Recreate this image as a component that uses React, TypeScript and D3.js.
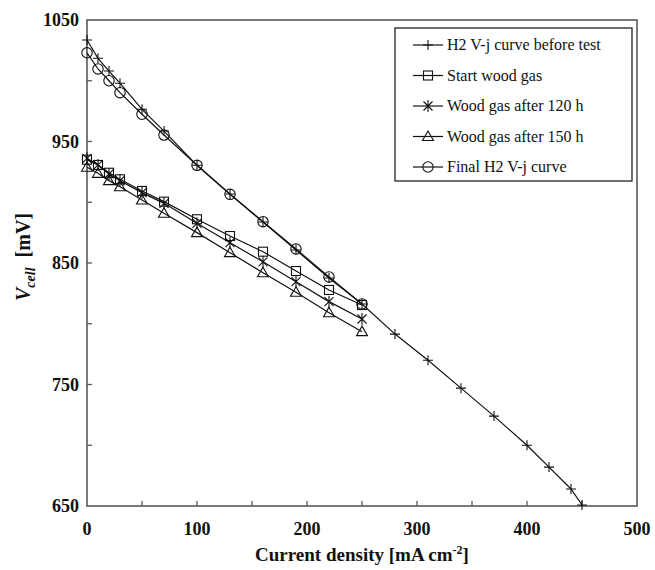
import React from 'react';
import * as d3 from 'd3';

// current density [mA cm-2]
const jH2 = [0, 10, 20, 30, 50, 70, 100, 130, 160, 190, 220, 250, 280, 310, 340, 370, 400, 420, 440, 450];
const jWood = [0, 10, 20, 30, 50, 70, 100, 130, 160, 190, 220, 250];

// cell voltage [mV]
const h2Before = [1033.5, 1018.5, 1008, 998, 976.5, 958.6, 930.4, 906.8, 883.7, 860.7, 837.7, 816.3, 791.5, 770, 747, 724, 700, 682, 664, 650.8];
const startWood = [935, 930.7, 924.3, 918.9, 909.3, 900.5, 886, 872.2, 859.3, 843.4, 827.8, 815.4];
const wood120 = [936.2, 930.7, 923.3, 917.7, 907.9, 899.1, 882.7, 866.7, 851, 834.6, 818.2, 803.9];
const wood150 = [928.8, 923.8, 917.8, 912.8, 901.9, 890.9, 875, 858.5, 842, 825.9, 809.1, 793.5];
const h2Final = [1023, 1009.7, 1000, 990.2, 972.4, 955.3, 930.4, 906.5, 884, 861.5, 838.5, 816.3];

const xTicks = [0, 100, 200, 300, 400, 500];
const yTicks = [650, 750, 850, 950, 1050];

const series = [
  { name: 'H2 V-j curve before test', x: jH2, y: h2Before, marker: 'plus' },
  { name: 'Start wood gas', x: jWood, y: startWood, marker: 'square' },
  { name: 'Wood gas after 120 h', x: jWood, y: wood120, marker: 'star' },
  { name: 'Wood gas after 150 h', x: jWood, y: wood150, marker: 'triangle' },
  { name: 'Final H2 V-j curve', x: jWood, y: h2Final, marker: 'circle' },
];

const W = 655;
const H = 570;
const left = 87, right = 637, top = 20, bottom = 506;
const serif = {
  fontFamily: "'Liberation Serif', 'Times New Roman', Times, Tinos, 'Nimbus Roman', 'Nimbus Roman No9 L', FreeSerif, 'Noto Serif', 'DejaVu Serif', serif",
};
const axisColor = '#5a5a5a';

function Marker({ type, cx, cy }: { type: string; cx: number; cy: number }) {
  const s = 5;
  const common = { fill: 'none', stroke: '#111', strokeWidth: 1.1 };
  if (type === 'plus') {
    return <path d={`M${cx - s},${cy}H${cx + s}M${cx},${cy - s}V${cy + s}`} {...common} />;
  }
  if (type === 'square') {
    return <rect x={cx - 4.5} y={cy - 4.5} width={9} height={9} {...common} />;
  }
  if (type === 'star') {
    const d = 4.5;
    return (
      <path
        d={`M${cx - d},${cy - d}L${cx + d},${cy + d}M${cx - d},${cy + d}L${cx + d},${cy - d}M${cx},${cy - s - 1}V${cy + s + 1}`}
        {...common}
      />
    );
  }
  if (type === 'triangle') {
    return <path d={`M${cx},${cy - 5.5}L${cx + 5.5},${cy + 4}L${cx - 5.5},${cy + 4}Z`} {...common} />;
  }
  return <circle cx={cx} cy={cy} r={5.2} {...common} />;
}

export default function App() {
  const x = d3.scaleLinear().domain([0, 500]).range([left, right]);
  const y = d3.scaleLinear().domain([650, 1050]).range([bottom, top]);
  const line = d3.line<[number, number]>().x(d => x(d[0])).y(d => y(d[1]));

  const xMinor = d3.range(50, 500, 50);
  const yMinor = d3.range(700, 1050, 50);

  const legendTop = 45;
  const legendStep = 30.5;

  return (
    <div style={{ position: 'absolute', left: 0, top: 0 }}>
      <svg width={W} height={H} style={{ display: 'block', background: '#fff' }}>
        {/* frame */}
        <rect x={left} y={top} width={right - left} height={bottom - top} fill="none" stroke={axisColor} strokeWidth={1.6} />

        {/* ticks */}
        {xMinor.map(t => (
          <line key={'xt' + t} x1={x(t)} x2={x(t)} y1={bottom} y2={bottom - 5} stroke={axisColor} strokeWidth={1.3} />
        ))}
        {yMinor.map(t => (
          <line key={'yt' + t} x1={left} x2={left + 5} y1={y(t)} y2={y(t)} stroke={axisColor} strokeWidth={1.3} />
        ))}

        {/* tick labels */}
        {xTicks.map(t => (
          <text key={'xl' + t} x={x(t)} y={535} textAnchor="middle" style={serif} fontWeight="bold" fontSize={18} fill="#111">
            {t}
          </text>
        ))}
        {yTicks.map(t => (
          <text key={'yl' + t} x={79} y={y(t) + 6} textAnchor="end" style={serif} fontWeight="bold" fontSize={18} fill="#111">
            {t}
          </text>
        ))}

        {/* axis titles */}
        <text x={362} y={561} textAnchor="middle" style={serif} fontWeight="bold" fontSize={19} fill="#111">
          Current density [mA cm<tspan dy={-7} fontSize={12}>-2</tspan><tspan dy={7}>]</tspan>
        </text>
        <text transform="translate(30,257) rotate(-90)" textAnchor="middle" style={serif} fontWeight="bold" fontSize={20} fill="#111">
          <tspan fontStyle="italic">V</tspan>
          <tspan fontStyle="italic" fontSize={14} dy={5}>cell</tspan>
          <tspan dy={-5}>{'\u00a0 [mV]'}</tspan>
        </text>

        {/* series */}
        {series.map(s => {
          const pts = s.x.map((v, i) => [v, s.y[i]] as [number, number]);
          return (
            <g key={s.name}>
              <path d={line(pts) || ''} fill="none" stroke="#111" strokeWidth={1.2} />
              {pts.map((p, i) => (
                <Marker key={i} type={s.marker} cx={x(p[0])} cy={y(p[1])} />
              ))}
            </g>
          );
        })}

        {/* legend */}
        <rect x={395} y={28} width={237} height={153} fill="#fff" stroke="#222" strokeWidth={1.3} />
        {series.map((s, i) => {
          const ly = legendTop + i * legendStep;
          return (
            <g key={'lg' + s.name}>
              <line x1={413} x2={443} y1={ly} y2={ly} stroke="#111" strokeWidth={1.2} />
              <Marker type={s.marker} cx={428} cy={ly} />
              <text x={447} y={ly + 5} style={serif} fontSize={16} fill="#111">
                {s.name}
              </text>
            </g>
          );
        })}
      </svg>
    </div>
  );
}
